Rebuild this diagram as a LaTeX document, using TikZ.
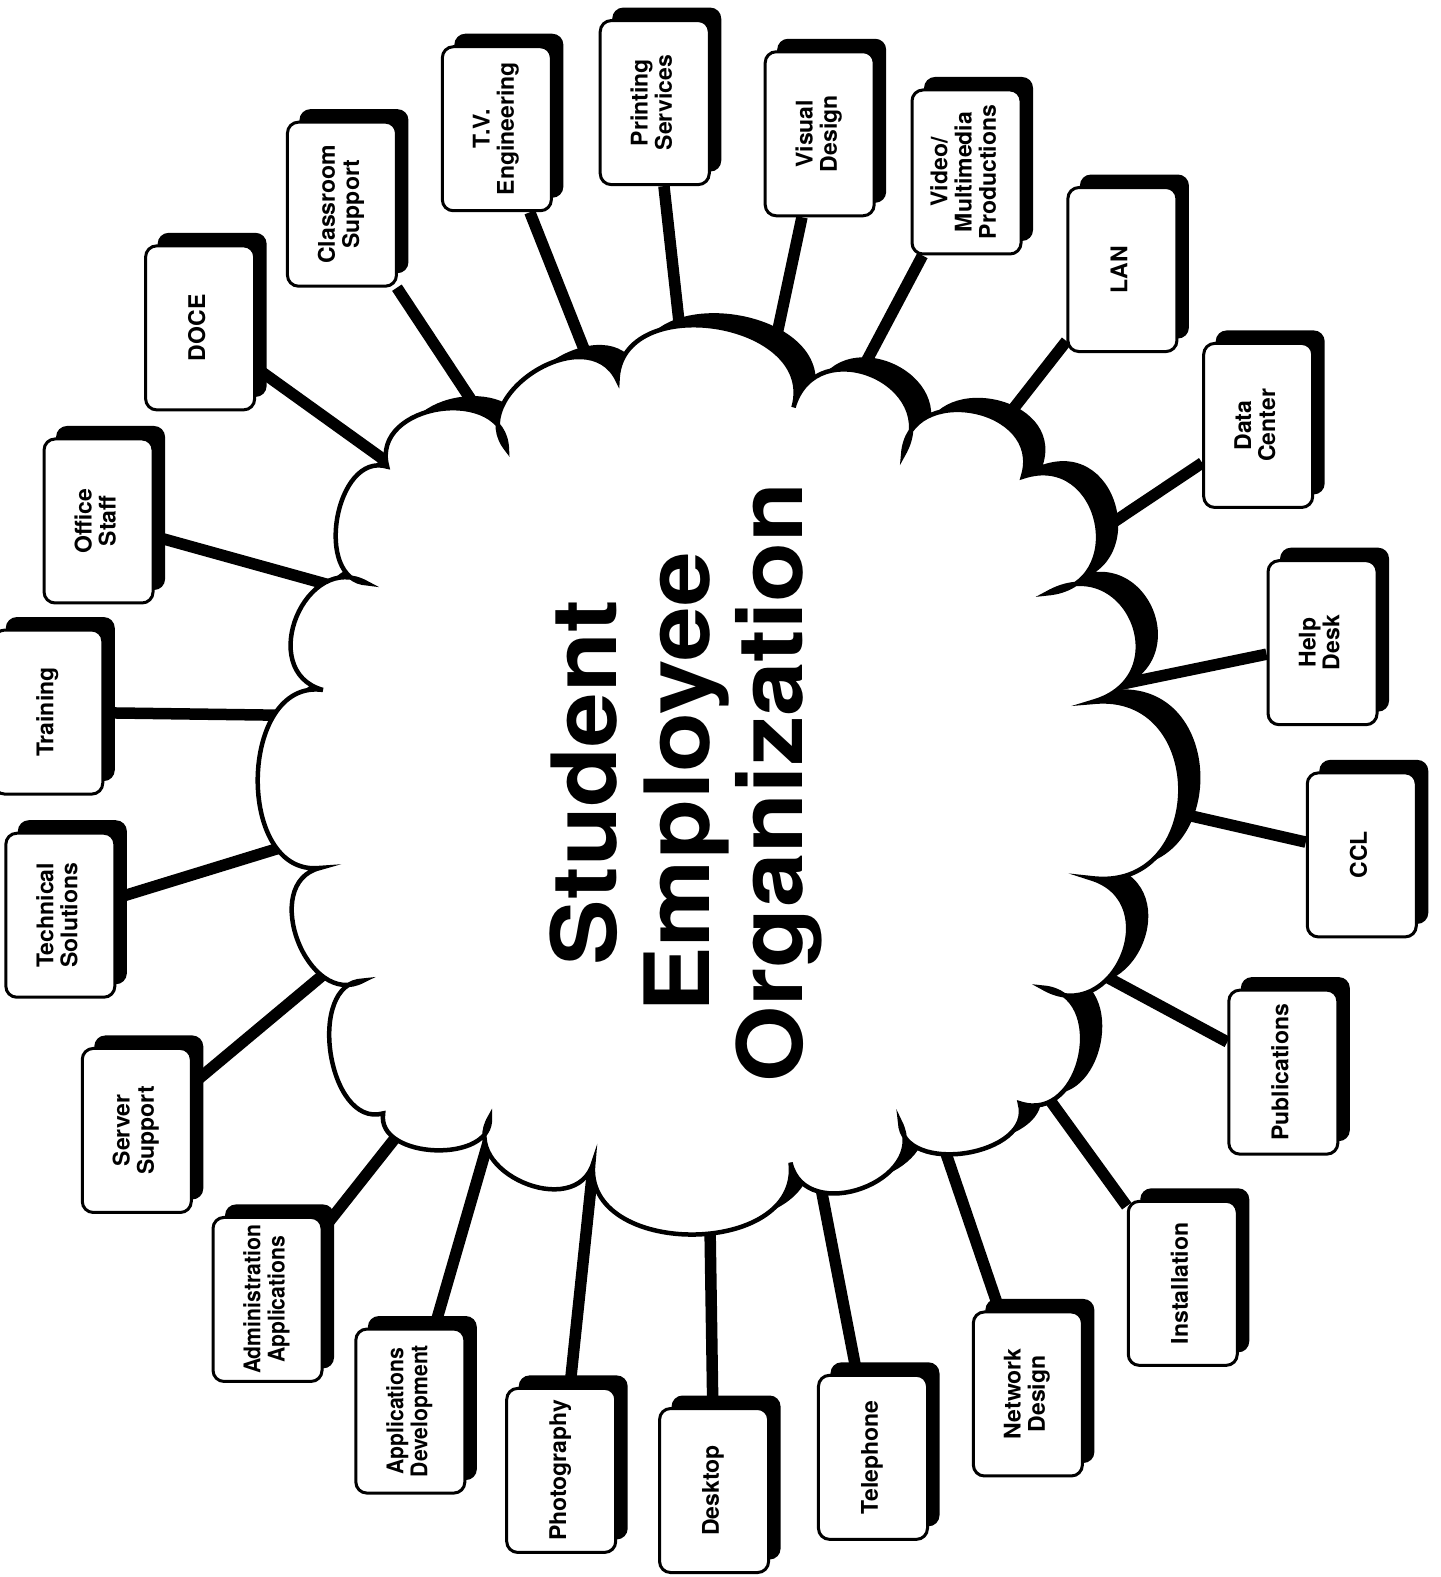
\documentclass[tikz,border=0pt]{standalone}
\usepackage{fontspec}
\setmainfont{TeX Gyre Heros}
\newfontfamily\titlefont[FakeStretch=1.09]{TeX Gyre Heros}
\newfontfamily\narrowfont[FakeStretch=0.92]{TeX Gyre Heros}
\usepackage{graphicx}
\usetikzlibrary{calc,shadows}
\pgfdeclarelayer{background}
\pgfsetlayers{background,main}
\newcommand\rtext[1]{\rotatebox{90}{\begin{tabular}{@{}c@{}}#1\end{tabular}}}
\begin{document}
\begin{tikzpicture}[x=1.0056pt,y=-1.0056pt,
  unit/.style={draw, fill=white, line width=3pt, rounded corners=11pt,
    minimum width=109pt, minimum height=164pt, inner sep=0pt,
    general shadow={fill=black, shadow xshift=12pt, shadow yshift=13pt},
    font=\fontsize{23}{23.5}\selectfont\bfseries},
  conn/.style={line width=11.5pt},
  title/.style={rotate=90, align=center, inner sep=0pt,
    font=\titlefont\bfseries\fontsize{90}{93}\selectfont},
  cloudpath/.style={insert path={
    (c1) .. controls ($(c1)!0.55!97:(c2)$) and ($(c2)!0.55!-97:(c1)$) .. (c2)
    .. controls ($(c2)!0.53!97:(c3)$) and ($(c3)!0.53!-97:(c2)$) .. (c3)
    .. controls ($(c3)!0.51!97:(c4)$) and ($(c4)!0.51!-97:(c3)$) .. (c4)
    .. controls ($(c4)!0.68!97:(c5)$) and ($(c5)!0.68!-97:(c4)$) .. (c5)
    .. controls ($(c5)!0.61!97:(c6)$) and ($(c6)!0.61!-97:(c5)$) .. (c6)
    .. controls ($(c6)!0.71!97:(c7)$) and ($(c7)!0.71!-97:(c6)$) .. (c7)
    .. controls ($(c7)!0.78!97:(c8)$) and ($(c8)!0.78!-97:(c7)$) .. (c8)
    .. controls ($(c8)!0.68!97:(c9)$) and ($(c9)!0.68!-97:(c8)$) .. (c9)
    .. controls ($(c9)!0.68!97:(c10)$) and ($(c10)!0.68!-97:(c9)$) .. (c10)
    .. controls ($(c10)!0.57!97:(c11)$) and ($(c11)!0.57!-97:(c10)$) .. (c11)
    .. controls ($(c11)!0.45!97:(c12)$) and ($(c12)!0.45!-97:(c11)$) .. (c12)
    .. controls ($(c12)!0.56!97:(c13)$) and ($(c13)!0.56!-97:(c12)$) .. (c13)
    .. controls ($(c13)!0.49!97:(c14)$) and ($(c14)!0.49!-97:(c13)$) .. (c14)
    .. controls ($(c14)!0.55!97:(c15)$) and ($(c15)!0.55!-97:(c14)$) .. (c15)
    .. controls ($(c15)!0.44!97:(c16)$) and ($(c16)!0.44!-97:(c15)$) .. (c16)
    .. controls ($(c16)!0.43!97:(c17)$) and ($(c17)!0.43!-97:(c16)$) .. (c17)
    .. controls ($(c17)!0.52!97:(c18)$) and ($(c18)!0.52!-97:(c17)$) .. (c18)
    .. controls ($(c18)!0.48!97:(c19)$) and ($(c19)!0.48!-97:(c18)$) .. (c19)
    .. controls ($(c19)!0.61!97:(c20)$) and ($(c20)!0.61!-97:(c19)$) .. (c20)
    .. controls ($(c20)!0.46!97:(c1)$) and ($(c1)!0.46!-97:(c20)$) .. (c1) -- cycle}}
]
\useasboundingbox (0,0) rectangle (1432,1568);

% cloud outline points
\coordinate (c1) at (385,464);
\coordinate (c2) at (504,447);
\coordinate (c3) at (614,378);
\coordinate (c4) at (789,405);
\coordinate (c5) at (898,452);
\coordinate (c6) at (1017,474);
\coordinate (c7) at (1041,590);
\coordinate (c8) at (1086,698);
\coordinate (c9) at (1084,873);
\coordinate (c10) at (1037,982);
\coordinate (c11) at (1014,1097);
\coordinate (c12) at (895,1116);
\coordinate (c13) at (786,1156);
\coordinate (c14) at (590,1156);
\coordinate (c15) at (487,1111);
\coordinate (c16) at (381,1107);
\coordinate (c17) at (361,975);
\coordinate (c18) at (318,863);
\coordinate (c19) at (321,686);
\coordinate (c20) at (365,580);

% connector ends on the cloud
\coordinate (os-a) at (318,579);
\coordinate (doce-a) at (383,458);
\coordinate (cls-a) at (470,400);
\coordinate (tv-a) at (585,358);
\coordinate (prt-a) at (676,328);
\coordinate (vis-a) at (772,335);
\coordinate (vid-a) at (860,362);
\coordinate (lan-a) at (1004,411);
\coordinate (dc-a) at (1091,530);
\coordinate (hd-a) at (1121,679);
\coordinate (ccl-a) at (1170,808);
\coordinate (pub-a) at (1107,975);
\coordinate (ins-a) at (1044,1094);
\coordinate (nd-a) at (942,1151);
\coordinate (tel-a) at (818,1190);
\coordinate (dsk-a) at (706,1222);
\coordinate (pho-a) at (588,1176);
\coordinate (apd-a) at (483,1144);
\coordinate (adm-a) at (391,1134);
\coordinate (srv-a) at (318,972);
\coordinate (tsl-a) at (272,845);
\coordinate (trn-a) at (268,711);

% boxes
\node[unit] (os) at (98,518) {\rtext{Office\\Staff}};
\node[unit] (doce) at (199,326) {\rtext{DOCE}};
\node[unit] (cls) at (340,203) {\rtext{Classroom\\Support}};
\node[unit] (tv) at (494,128) {\rtext{T.V.\\Engineering}};
\node[unit] (prt) at (651,102) {\rtext{Printing\\Services}};
\node[unit] (vis) at (815,133) {\rtext{Visual\\Design}};
\node[unit] (vid) at (961,171) {\rtext{Video/\\Multimedia\\Productions}};
\node[unit] (lan) at (1116,268) {\rtext{LAN}};
\node[unit] (dc) at (1251,423) {\rtext{Data\\Center}};
\node[unit] (hd) at (1315,639) {\rtext{Help\\Desk}};
\node[unit] (ccl) at (1354,850) {\rtext{CCL}};
\node[unit] (pub) at (1276,1066) {\rtext{Publications}};
\node[unit] (ins) at (1176,1276) {\rtext{Installation}};
\node[unit] (nd) at (1022,1386) {\rtext{Network\\Design}};
\node[unit] (tel) at (868,1449) {\rtext{Telephone}};
\node[unit] (dsk) at (710,1482) {\rtext{Desktop}};
\node[unit] (pho) at (558,1462) {\rtext{Photography}};
\node[unit] (apd) at (408,1403) {\narrowfont\rtext{Applications\\Development}};
\node[unit] (adm) at (266,1292) {\narrowfont\rtext{Administration\\Applications}};
\node[unit] (srv) at (136,1124) {\rtext{Server\\Support}};
\node[unit] (tsl) at (60,910) {\rtext{Technical\\Solutions}};
\node[unit] (trn) at (48,708) {\rtext{Training}};

% title
\node[title] (ttl) at (682,778) {Student\\Employee\\Organization};

\begin{pgfonlayer}{background}
  \fill[white] (0,0) rectangle (1432,1568);
  \foreach \b in {os,doce,cls,tv,prt,vis,vid,lan,dc,hd,ccl,pub,ins,nd,tel,dsk,pho,apd,adm,srv,tsl,trn}
    \draw[conn] (\b) -- ($(\b-a)!-16pt!(\b)$);
  \fill[black, transform canvas={shift={(20,-12)}}, cloudpath];
  \draw[fill=white, line width=4.5pt, cloudpath];
\end{pgfonlayer}
\end{tikzpicture}
\end{document}
